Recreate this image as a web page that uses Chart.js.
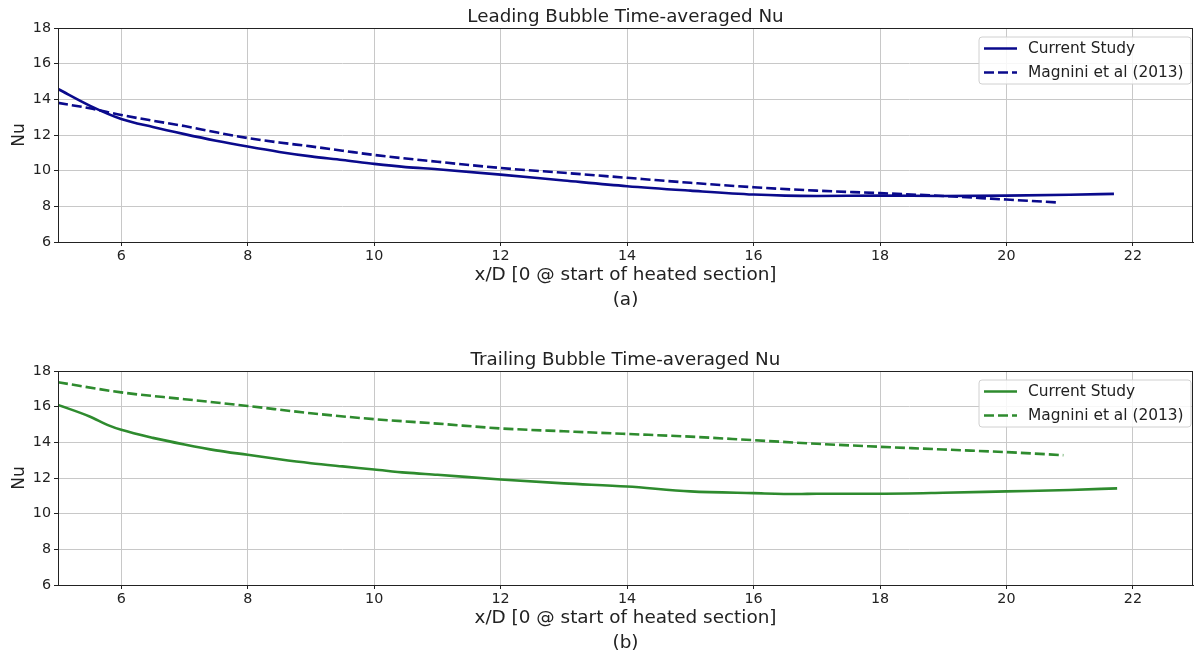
<!DOCTYPE html>
<html>
<head>
<meta charset="utf-8">
<script src="https://cdn.jsdelivr.net/npm/chart.js@4.4.1/dist/chart.umd.min.js"></script>
<style>
  body { margin: 0; background: #fff; }
  .wrap { position: absolute; left: 0; width: 1195px; }
</style>
</head>
<body>
<div class="wrap" style="top:0;height:320px"><canvas id="topChart"></canvas></div>
<div class="wrap" style="top:320px;height:343px"><canvas id="botChart"></canvas></div>
<script>
// x/D positions and Nu values
var leadCurX = [5, 5.5, 6, 6.5, 7, 7.5, 8, 8.5, 9, 9.5, 10, 10.5, 11, 12, 13, 14, 15, 16, 16.5, 17, 18, 19, 20, 21, 21.7];
var leadCurNu = [14.58, 13.65, 12.9, 12.45, 12.05, 11.68, 11.35, 11.05, 10.8, 10.6, 10.38, 10.2, 10.08, 9.78, 9.45, 9.13, 8.88, 8.66, 8.6, 8.58, 8.6, 8.58, 8.6, 8.65, 8.7];
var leadMagX = [5, 5.5, 6, 6.5, 7, 7.5, 8, 8.5, 9, 9.5, 10, 11, 12, 13, 14, 15, 16, 17, 18, 19, 20, 20.8];
var leadMagNu = [13.8, 13.5, 13.12, 12.8, 12.5, 12.15, 11.83, 11.58, 11.36, 11.12, 10.88, 10.5, 10.15, 9.88, 9.6, 9.32, 9.07, 8.88, 8.74, 8.58, 8.38, 8.22];
var trailCurX = [5, 5.5, 5.8, 6, 6.5, 7, 7.5, 8, 8.5, 9, 9.5, 10, 10.5, 11, 12, 13, 14, 15, 16, 16.7, 17, 18, 19, 20, 21, 21.75];
var trailCurNu = [16.1, 15.45, 14.95, 14.7, 14.25, 13.88, 13.55, 13.3, 13.05, 12.83, 12.65, 12.48, 12.3, 12.18, 11.92, 11.7, 11.52, 11.25, 11.15, 11.1, 11.12, 11.12, 11.17, 11.25, 11.33, 11.42];
var trailMagX = [5, 6, 7, 8, 9, 10, 11, 12, 13, 14, 15, 16, 17, 18, 19, 20, 20.9];
var trailMagNu = [17.37, 16.8, 16.42, 16.04, 15.63, 15.3, 15.05, 14.78, 14.62, 14.47, 14.32, 14.12, 13.92, 13.75, 13.6, 13.45, 13.28];
var xTicks = [6, 8, 10, 12, 14, 16, 18, 20, 22];
var yTicks = [6, 8, 10, 12, 14, 16, 18];

var FONT = "'DejaVu Sans', sans-serif";
var INK = '#222';

function pts(xs, ys) {
  return xs.map(function (x, i) { return { x: x, y: ys[i] }; });
}

// matplotlib-like frame, title over the axes and legend inside the plot
var framePlugin = {
  id: 'frame',
  afterDraw: function (chart, args, opts) {
    var a = chart.chartArea, ctx = chart.ctx;
    ctx.save();
    ctx.strokeStyle = INK;
    ctx.lineWidth = 1;
    ctx.strokeRect(a.left + 0.5, a.top + 0.5, a.right - a.left - 1, a.bottom - a.top);
    // axes title
    ctx.fillStyle = INK;
    ctx.font = '18.3px ' + FONT;
    ctx.textAlign = 'center';
    ctx.textBaseline = 'middle';
    ctx.fillText(opts.title, (a.left + a.right) / 2, a.top - 11);
    // legend
    ctx.textAlign = 'left';
    var bx = a.right - 214, by = a.top + 9, bw = 212, bh = 47;
    ctx.fillStyle = 'rgba(255,255,255,0.85)';
    ctx.strokeStyle = '#d0d0d0';
    ctx.beginPath();
    ctx.roundRect(bx, by, bw, bh, 3);
    ctx.fill();
    ctx.stroke();
    ctx.font = '15.4px ' + FONT;
    chart.data.datasets.forEach(function (ds, i) {
      var yy = by + 11.5 + i * 24;
      ctx.strokeStyle = ds.borderColor;
      ctx.lineWidth = ds.borderWidth;
      ctx.setLineDash(ds.borderDash || []);
      ctx.beginPath();
      ctx.moveTo(bx + 5, yy);
      ctx.lineTo(bx + 38, yy);
      ctx.stroke();
      ctx.setLineDash([]);
      ctx.fillStyle = INK;
      ctx.fillText(ds.label, bx + 49, yy);
    });
    ctx.restore();
  }
};

function makeChart(id, title, tag, color, topPad, curX, curNu, magX, magNu) {
  return new Chart(id, {
    type: 'line',
    data: {
      datasets: [{
        label: 'Current Study',
        data: pts(curX, curNu),
        borderColor: color,
        borderWidth: 2.6,
        pointRadius: 0,
        cubicInterpolationMode: 'monotone'
      }, {
        label: 'Magnini et al (2013)',
        data: pts(magX, magNu),
        borderColor: color,
        borderWidth: 2.6,
        borderDash: [10, 4],
        pointRadius: 0,
        cubicInterpolationMode: 'monotone'
      }]
    },
    options: {
      responsive: true,
      maintainAspectRatio: false,
      animation: false,
      layout: { padding: { left: 0, right: 2, top: topPad, bottom: 0 } },
      plugins: {
        legend: { display: false },
        tooltip: { enabled: false },
        title: { display: false },
        frame: { title: title }
      },
      scales: {
        x: {
          type: 'linear',
          min: 5,
          max: 22.95,
          afterBuildTicks: function (s) { s.ticks = xTicks.map(function (v) { return { value: v }; }); },
          afterFit: function (s) { s.height = 78; },
          grid: { color: '#c8c8c8', tickColor: INK, tickLength: 4 },
          border: { color: INK },
          ticks: { color: INK, font: { family: FONT, size: 14.3 }, padding: 2, maxRotation: 0 },
          title: {
            display: true,
            text: ['x/D [0 @ start of heated section]', tag],
            color: INK,
            font: { family: FONT, size: 18.4, lineHeight: 25 / 18.4 },
            padding: { top: 0, bottom: 7.5 }
          }
        },
        y: {
          min: 6,
          max: 18,
          afterBuildTicks: function (s) { s.ticks = yTicks.map(function (v) { return { value: v }; }); },
          afterFit: function (s) { s.width = 58; },
          grid: { color: '#c8c8c8', tickColor: INK, tickLength: 4 },
          border: { color: INK },
          ticks: { color: INK, font: { family: FONT, size: 14.3 }, padding: 3 },
          title: {
            display: true,
            text: 'Nu',
            color: INK,
            font: { family: FONT, size: 17 },
            padding: { top: 9, bottom: 0 }
          }
        }
      }
    },
    plugins: [framePlugin]
  });
}

makeChart('topChart', 'Leading Bubble Time-averaged Nu', '(a)', '#0a0a8c', 28, leadCurX, leadCurNu, leadMagX, leadMagNu);
makeChart('botChart', 'Trailing Bubble Time-averaged Nu', '(b)', '#2e8b2e', 51, trailCurX, trailCurNu, trailMagX, trailMagNu);
</script>
</body>
</html>
